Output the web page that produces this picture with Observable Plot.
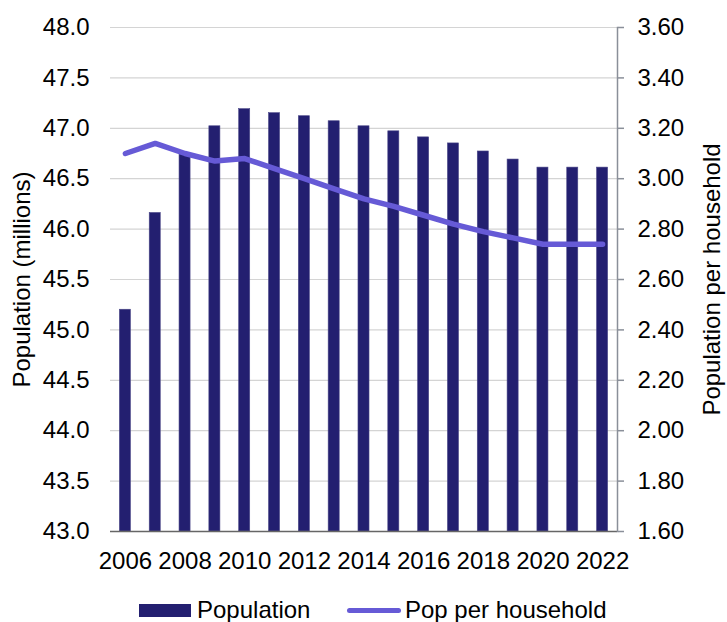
<!DOCTYPE html>
<html>
<head>
<meta charset="utf-8">
<script src="https://cdn.jsdelivr.net/npm/d3@7"></script>
<script src="https://cdn.jsdelivr.net/npm/@observablehq/plot@0.6"></script>
<style>
  html, body { margin: 0; padding: 0; background: #fff; }
  #chart { position: relative; width: 727px; height: 622px; font-family: "Liberation Sans", Arial, sans-serif; overflow: hidden; }
  #chart svg { display: block; }
  #legend { position: relative; width: 727px; height: 37px; font-size: 24px; line-height: 22px; color: #000; }
  #legend .item { position: absolute; top: 14px; height: 22px; display: flex; align-items: center; }
  #legend .swatch-bar { width: 52px; height: 13px; background: #231f70; margin-right: 6px; }
  #legend .swatch-line { width: 54px; height: 5px; border-radius: 3px; background: #665ad6; margin-right: 4px; }
</style>
</head>
<body>
<div id="chart"></div>
<script>
// Annual series
const years = [2006, 2007, 2008, 2009, 2010, 2011, 2012, 2013, 2014, 2015, 2016, 2017, 2018, 2019, 2020, 2021, 2022];
const population = [45.2, 46.16, 46.74, 47.02, 47.19, 47.15, 47.12, 47.07, 47.02, 46.97, 46.91, 46.85, 46.77, 46.69, 46.61, 46.61, 46.61];
const popPerHousehold = [3.10, 3.14, 3.10, 3.07, 3.08, 3.04, 3.00, 2.96, 2.92, 2.89, 2.855, 2.82, 2.79, 2.765, 2.74, 2.74, 2.74];

// Axis ticks
const yearTicks = [2006, 2008, 2010, 2012, 2014, 2016, 2018, 2020, 2022];
const populationTicks = [43.0, 43.5, 44.0, 44.5, 45.0, 45.5, 46.0, 46.5, 47.0, 47.5, 48.0];
const householdTicks = [1.60, 1.80, 2.00, 2.20, 2.40, 2.60, 2.80, 3.00, 3.20, 3.40, 3.60];

const popDomain = [43, 48];
const hhDomain = [1.6, 3.6];
// Map the secondary (per household) axis onto the primary population scale
const hhToPop = h => popDomain[0] + (h - hhDomain[0]) * (popDomain[1] - popDomain[0]) / (hhDomain[1] - hhDomain[0]);

const rows = years.map((year, i) => ({year, pop: population[i], pph: popPerHousehold[i]}));

const barColor = "#231f70";
const lineColor = "#665ad6";

const plot = Plot.plot({
  width: 727,
  height: 585,
  marginTop: 27,
  marginBottom: 54,
  marginLeft: 110,
  marginRight: 110,
  style: {fontFamily: "'Liberation Sans', Arial, sans-serif", fontSize: "24px", color: "#000", background: "#fff"},
  x: {type: "band", domain: years, paddingInner: 0.63, paddingOuter: 0.315, round: false},
  y: {domain: popDomain},
  marks: [
    Plot.gridY(populationTicks, {stroke: "#d4d4d4", strokeOpacity: 1, strokeWidth: 1.2}),
    Plot.barY(rows, {x: "year", y1: popDomain[0], y2: "pop", fill: barColor, stroke: "#4a4788", strokeWidth: 0.6}),
    Plot.line(rows, {x: "year", y: d => hhToPop(d.pph), stroke: lineColor, strokeWidth: 5.5, strokeLinecap: "round", strokeLinejoin: "round"}),
    Plot.ruleY([popDomain[0]], {stroke: "#666", strokeWidth: 1.5}),
    Plot.frame({anchor: "right", stroke: "#8a8f99", strokeWidth: 1.5}),
    Plot.axisY(populationTicks, {anchor: "left", tickSize: 0, tickPadding: 21, tickFormat: d => d.toFixed(1), label: null}),
    Plot.axisY(householdTicks.map(hhToPop), {anchor: "right", tickSize: 6, tickPadding: 14, stroke: "#8a8f99", strokeWidth: 1.5,
      tickFormat: (d, i) => householdTicks[i].toFixed(2), label: null}),
    Plot.axisX(yearTicks, {anchor: "bottom", tickSize: 0, tickPadding: 20, tickFormat: d => String(d), label: null}),
    Plot.text(["Population (millions)"], {frameAnchor: "left", textAnchor: "middle", dx: -88, rotate: -90, fontSize: 24}),
    Plot.text(["Population per household"], {frameAnchor: "right", textAnchor: "middle", dx: 95, rotate: -90, fontSize: 24})
  ]
});

const chart = document.getElementById("chart");
chart.appendChild(plot);

const legend = document.createElement("div");
legend.id = "legend";
legend.innerHTML =
  `<div class="item" style="left:139px"><div class="swatch-bar"></div><span>Population</span></div>` +
  `<div class="item" style="left:347px"><div class="swatch-line"></div><span>Pop per household</span></div>`;
chart.appendChild(legend);
</script>
</body>
</html>
